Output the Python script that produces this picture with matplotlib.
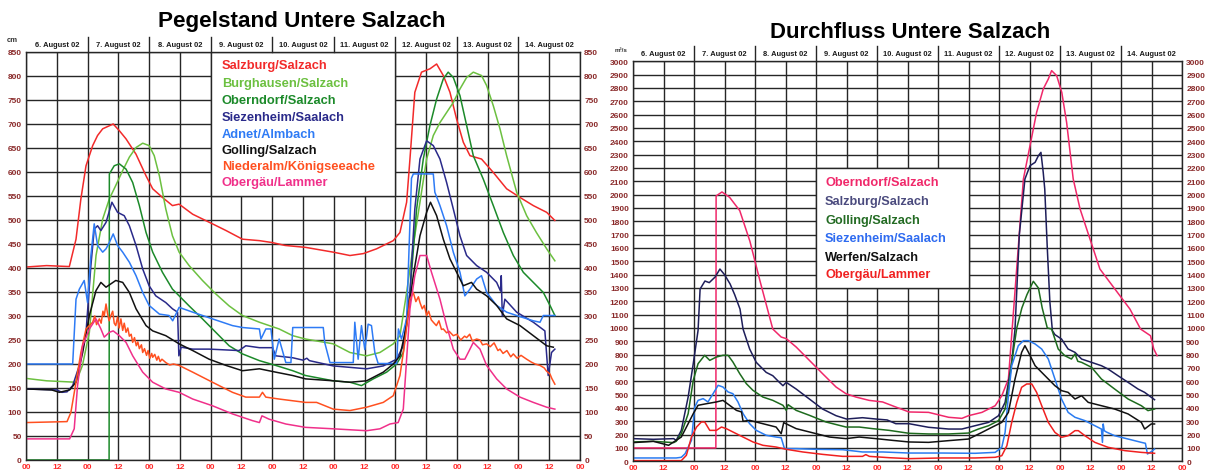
import matplotlib
matplotlib.use("Agg")
import matplotlib.pyplot as plt
from matplotlib.patches import Rectangle
from matplotlib.transforms import blended_transform_factory

plt.rcParams['font.family'] = ['Liberation Sans', 'DejaVu Sans']

# ---------------------------------------------------------------- axis labels
DAYS = ["6. August 02", "7. August 02", "8. August 02", "9. August 02",
        "10. August 02", "11. August 02", "12. August 02", "13. August 02",
        "14. August 02"]
HOUR_TICKS = list(range(0, 217, 12))
HOUR_LABELS = ["00", "12"] * 9 + ["00"]

TITLE_LEFT = "Pegelstand Untere Salzach"
TITLE_RIGHT = "Durchfluss Untere Salzach"

# ---------------------------------------------------------------- Pegelstand (cm)
# time in hours since 6 Aug 2002 00:00
salzburg_pg_t = [0, 8, 16.9, 19.5, 21.4, 23.4, 26, 27.9, 29.9, 34, 36.4, 39, 42.9, 46.8, 49.4,
                 53.2, 57.1, 59.7, 65, 72.7, 78, 84.4, 91, 96, 101, 109, 119.8, 126.3, 131.5,
                 136.7, 143.2, 145.8, 148.4, 149.7, 151.6, 154.2, 157.5, 160.1, 162.7, 165.3,
                 167.9, 170.5, 173.1, 177.6, 182.2, 187.4, 192.6, 197.8, 203, 206.2]
salzburg_pg_v = [402, 405, 403, 460, 544, 613, 655, 676, 690, 700, 686, 669, 637, 592, 565,
                 547, 530, 533, 512, 492, 478, 460, 457, 453, 447, 443, 433, 426, 430,
                 440, 457, 474, 537, 627, 766, 808, 815, 825, 801, 766,
                 710, 662, 634, 627, 599, 565, 547, 530, 516, 499]

burghausen_pg_t = [0, 8, 19.5, 22, 24.7, 27.3, 29.9, 32.5, 35, 37.7, 40.3, 42.9, 45.5, 48, 50,
                   52, 54.5, 57.1, 59.7, 63.6, 68.8, 74, 79.2, 84.4, 91, 98.7, 104, 109, 119.8,
                   126.3, 132.8, 138, 143.2, 145.8, 148.4, 151, 153.6, 156.2, 158.8, 161.4, 164,
                   166.6, 169.2, 171.8, 174.4, 177.6, 179.6, 182.2, 184.8, 187.4, 191.3, 195.2,
                   199, 203, 206.2]
burghausen_pg_v = [170, 165, 162, 197, 266, 426, 502, 544, 572, 603, 631, 651, 660, 655, 634,
                   592, 523, 467, 433, 405, 374, 346, 321, 301, 287, 273, 259, 252, 242,
                   224, 217, 224, 242, 259, 349, 447, 537, 627, 676, 703, 724,
                   745, 773, 797, 808, 801, 780, 738, 690, 634, 558, 509,
                   474, 440, 415]

oberndorf_pg_t = [0, 32.4, 32.5, 34.4, 36.4, 39, 41.6, 44.2, 46.8, 49.4, 53.2, 57.1, 59.7, 63.6,
                  68.8, 74, 79.2, 84.4, 91, 97.4, 104, 109, 119.8, 126.3, 130.8, 135.4, 140.6,
                  144.5, 147.1, 149.7, 152.3, 154.9, 157.5, 160.1, 162.7, 164.6, 166.6, 169.2,
                  171.8, 174.4, 178.3, 182.2, 186.1, 190, 193.9, 197.8, 201.7, 204.3, 206.2]
oberndorf_pg_v = [0, 0, 596, 613, 617, 606, 578, 530, 474, 433, 391, 356, 342, 321,
                  294, 266, 238, 221, 207, 197, 186, 176, 165, 162, 155, 169, 183,
                  200, 224, 349, 523, 627, 697, 752, 794, 808, 797, 759,
                  697, 634, 585, 530, 474, 426, 391, 370, 349, 322, 301]

siezenheim_pg_t = [0, 12, 14, 16, 18.2, 20.8, 23.4, 25.3, 26.6, 27.9, 29.2, 31.2, 33.5, 35.7,
                   38.3, 40.3, 42.9, 45.5, 48, 50.6, 54.5, 57.1, 59.1, 59.6, 60.5, 65, 71.4,
                   83.1, 85.7, 91, 96.1, 97.4, 104, 108, 109.5, 110.5, 119.8, 132.8, 139.3,
                   144.5, 147.1, 149.7, 151.6, 153.6, 156.2, 158.8, 161.4, 164, 166.6, 169.2,
                   171.8, 175.7, 179.6, 183.5, 185.0, 185.3, 185.7, 186.7, 191.3, 197.8, 202.3,
                   203.6, 204.9, 206.2]
siezenheim_pg_v = [148, 146, 141, 142, 155, 197, 266, 405, 481, 488, 478, 495, 537, 516,
                   509, 488, 447, 398, 363, 342, 328, 315, 308, 217, 235, 231, 231,
                   228, 238, 234, 234, 217, 213, 208, 212, 207, 196, 190, 196,
                   210, 238, 349, 523, 627, 665, 655, 627, 578, 523, 467,
                   426, 405, 391, 370, 352, 384, 300, 335, 308, 287, 269,
                   176, 224, 231]

adnet_pg_t = [0, 18.2, 19.5, 20.8, 22.7, 24, 25.3, 26.6, 27.9, 29.9, 31.2, 32.5, 34, 35.7,
              37.7, 40.3, 42.9, 45.5, 48, 52, 55.8, 57.2, 59.7, 65, 72.7, 80.5, 84.4, 91,
              91.6, 93.5, 95.5, 96.8, 98.7, 101.3, 103.3, 104, 109, 115.9, 116.5, 118.5,
              127.6, 128.2, 129.5, 130.8, 132.1, 133.4, 134.7, 136, 137.3, 144.5, 145.2,
              146.4, 148.4, 150.3, 151, 158.8, 159.4, 161.4, 164, 166.6, 169.2, 171.1,
              173.1, 175.7, 177.6, 179.6, 183.5, 187.4, 191.3, 197.8, 200.4, 201.7, 206.2]
adnet_pg_v = [200, 200, 335, 356, 374, 328, 426, 492, 447, 433, 440, 453, 471, 447,
              433, 412, 384, 349, 322, 304, 301, 290, 318, 308, 294, 280, 276, 273,
              252, 273, 273, 210, 252, 203, 203, 276, 276, 276, 244, 203,
              203, 287, 210, 280, 230, 283, 280, 224, 201, 201, 273,
              252, 294, 587, 596, 596, 558, 530, 488, 433, 391, 342,
              356, 377, 384, 349, 322, 308, 301, 290, 287, 301, 301]

golling_pg_t = [0, 10, 13, 17, 19.5, 22.1, 24.7, 27.3, 29.2, 31.2, 33.1, 35, 37.7, 40.3,
                42.9, 46.8, 49.4, 54.5, 59.7, 65, 71.4, 78, 84.4, 91, 97.4, 104, 109, 119.8,
                126.3, 132.8, 139.3, 143.2, 145.8, 148.4, 151, 153.6, 156.2, 157.7, 160.1,
                162.7, 165.3, 167.9, 170.5, 173.7, 175.7, 179.6, 183.5, 187.4, 192.6, 197.8,
                203, 205.6]
golling_pg_v = [148, 146, 141, 146, 162, 224, 301, 353, 370, 360, 367, 374, 370, 349,
                315, 280, 269, 259, 242, 228, 210, 197, 186, 190, 183, 176, 169, 165,
                162, 165, 183, 200, 217, 280, 384, 467, 516, 537, 509,
                460, 419, 391, 363, 370, 356, 342, 322, 294, 280, 259,
                238, 235]

niederalm_pg_t = [0, 16, 17.5, 19.5, 21.4, 23.4, 26, 26.8, 27.5, 28.6, 29.3, 30, 30.5, 31.2,
                  31.8, 32.4, 33.1, 33.8, 34.4, 35, 35.7, 36.3, 37, 37.7, 38.3, 39, 39.7, 40.3,
                  41, 41.6, 42.3, 43, 43.6, 44.2, 45, 45.5, 46.2, 47, 47.6, 48.3, 49, 49.4,
                  50.2, 51, 51.6, 52.3, 53, 54.5, 56, 57.5, 59.7, 65, 72.7, 80.5, 85.7, 91,
                  92.2, 93.5, 98.7, 109, 113.3, 119.8, 126.3, 132.8, 139.3, 143.2, 145.8,
                  147.7, 149.7, 151, 152, 153, 153.6, 154.5, 155.3, 156.2, 157, 158, 158.8,
                  160, 161, 162, 162.7, 164, 165, 166.6, 168, 169.5, 171, 171.8, 173, 174,
                  175.7, 177, 178, 179.6, 181, 182.5, 184, 184.8, 186, 187.5, 189, 190, 191.5,
                  193, 195.2, 197, 198.5, 200.4, 202, 203, 204.3, 205, 206.2]
niederalm_pg_v = [78, 80, 99, 162, 224, 273, 287, 300, 282, 294, 285, 310, 300, 325,
                  305, 290, 301, 310, 285, 280, 298, 275, 294, 270, 285, 266, 275, 258,
                  262, 245, 255, 238, 246, 232, 240, 224, 232, 218, 228, 212, 222, 214,
                  220, 208, 216, 205, 210, 203, 198, 200, 197, 183, 162, 141, 131, 131,
                  141, 131, 127, 120, 120, 106, 103, 110, 120, 134, 176,
                  245, 335, 349, 330, 340, 328, 315, 322, 301, 310, 292, 287,
                  280, 290, 272, 273, 265, 268, 259, 262, 250, 258, 255, 262, 248,
                  252, 250, 240, 242, 236, 244, 228, 231, 222, 228, 215, 221, 212,
                  218, 210, 204, 200, 197, 192, 185, 179, 170, 158]

obergaeu_pg_t = [0, 17, 18.8, 20.1, 22.1, 24.7, 27.3, 29.2, 30.5, 32.5, 34, 36.4, 39, 41.6,
                 45.5, 49.4, 54.5, 59.7, 65, 72.7, 80.5, 88.3, 91, 92, 94.8, 101.3, 109,
                 119.8, 132.8, 138, 141.9, 145.1, 147.1, 148.4, 149.7, 151.6, 153.6, 156.2,
                 158.1, 161.4, 164, 166.6, 169.2, 171.1, 173.1, 174.4, 177, 179.6, 183.5,
                 187.4, 192.6, 197.8, 203, 206.2]
obergaeu_pg_v = [44, 44, 65, 155, 238, 273, 294, 273, 256, 266, 269, 259, 245, 217,
                 183, 162, 148, 141, 127, 113, 96, 82, 78, 92, 85, 75, 68,
                 65, 61, 65, 75, 78, 106, 210, 315, 384, 426, 426,
                 391, 335, 280, 231, 210, 210, 231, 245, 231, 197, 169,
                 148, 131, 120, 110, 106]

# ---------------------------------------------------------------- Durchfluss (m3/s)
oberndorf_df_t = [0, 32.6, 32.7, 35, 38, 42, 46, 50, 55, 58.3, 60.3, 64.2, 69.4, 74.6, 79.9,
                  83.8, 87.7, 92.9, 98.2, 103.4, 108.6, 116.3, 124.2, 129.4, 132, 137.3, 142.5,
                  145.1, 147.7, 150, 153.6, 156.2, 158.8, 161.4, 163.4, 164.7, 166.7, 168.7,
                  170.6, 173.2, 175.9, 179.8, 183.7, 189.6, 195.5, 199.7, 203.6, 204.9, 206.2]
oberndorf_df_v = [100, 100, 1990, 2020, 1980, 1880, 1650, 1350, 992, 932, 920, 857, 757, 657,
                  557, 507, 482, 457, 445, 407, 370, 367, 330, 322, 342, 367, 417,
                  492, 617, 1200, 2117, 2367, 2617, 2792, 2867, 2930, 2892, 2767,
                  2542, 2117, 1892, 1667, 1442, 1292, 1142, 992, 942, 842, 792]

salzburg_df_t = [0, 8, 16, 17, 19, 21.7, 23.7, 25.6, 26.4, 28.3, 30, 32.3, 34.2, 36, 38.2, 40,
                 42.1, 43.3, 45.9, 48.5, 52.4, 55, 57.6, 59, 60.3, 64.2, 69.4, 74.6, 79.9, 84,
                 90.3, 95.6, 100, 103.4, 108.6, 116.3, 124.2, 129.4, 134.6, 139.9, 143.8, 146.4,
                 149, 150.3, 152, 154.2, 156.2, 158.2, 159.5, 160.5, 161.4, 162, 163, 164, 165,
                 166, 168.6, 171.2, 173.9, 176.5, 180.4, 184.3, 186.9, 190.8, 194.8, 198.7,
                 201.3, 205.2]
salzburg_df_v = [170, 165, 170, 157, 232, 482, 732, 982, 1292, 1352, 1340, 1382, 1442, 1400,
                 1330, 1250, 1142, 992, 842, 742, 667, 642, 592, 567, 592, 542, 467, 392, 342,
                 317, 327, 317, 310, 282, 282, 255, 242, 242, 267, 292, 342, 442,
                 742, 992, 1700, 2117, 2217, 2242, 2292, 2317, 2167, 2042, 1600, 1200, 980,
                 950, 917, 842, 817, 767, 742, 717, 692, 642, 592, 542,
                 517, 462]

golling_df_t = [0, 8, 16, 17, 19, 21.7, 23.7, 25.6, 28.2, 30.2, 32.8, 35.4, 37.4, 39.3, 42,
                44.6, 47.2, 51.1, 55, 59, 60.3, 61, 64.2, 69.4, 75.9, 83.8, 89, 94.2, 100.8,
                108.6, 116.3, 124.2, 132, 135.9, 139.9, 143.8, 146.4, 147.7, 149, 151, 153,
                155, 157.5, 159.5, 161, 163, 164.7, 167.3, 169.9, 172.5, 173.9, 175, 176.5,
                180.4, 184.3, 189.5, 194.8, 200, 202.6, 205.2]
golling_df_v = [145, 150, 140, 150, 207, 357, 607, 732, 795, 757, 782, 795, 795, 745, 657,
                582, 532, 482, 457, 420, 382, 425, 382, 345, 295, 257, 257, 245, 232,
                210, 205, 205, 212, 242, 267, 305, 392, 542, 742, 1000, 1150,
                1250, 1350, 1300, 1150, 1000, 992, 842, 792, 767, 805, 750, 742,
                705, 617, 542, 467, 417, 380, 392]

siezenheim_df_t = [0, 8, 17, 19, 20.5, 23, 24.3, 25.6, 27.6, 29.5, 31.5, 33.5, 35.4, 37.4, 39.3,
                   41.3, 43.3, 45.9, 48.5, 52.4, 56.3, 58.3, 59.6, 64.2, 72, 82.5, 90.3, 98.2,
                   108.6, 121.6, 134.6, 142.5, 145.1, 146.4, 147.7, 149, 151.6, 153.6, 155.6,
                   158.2, 160.8, 163.4, 166, 168.6, 171.2, 173.9, 177.8, 181.7, 184.3, 184.7,
                   185.0, 185.4, 186.2, 189.5, 194.8, 200, 201.6, 202.4, 203.9, 205.2]
siezenheim_df_v = [25, 25, 25, 30, 57, 157, 407, 457, 470, 445, 507, 570, 557, 520, 507,
                   445, 357, 282, 232, 195, 182, 177, 95, 95, 90, 87, 70, 70,
                   62, 62, 60, 67, 105, 217, 492, 717, 867, 905, 905,
                   880, 842, 767, 617, 467, 367, 330, 305, 267, 242, 142,
                   280, 230, 220, 192, 167, 142, 135, 55, 72, 92]

werfen_df_t = [0, 8, 14, 16, 19, 21.7, 23.7, 25.6, 28.9, 32.8, 35.4, 38, 40.7, 42.7, 43.3,
               45.9, 51.1, 56.3, 58.3, 59.3, 64.2, 69.4, 77.3, 83.8, 89, 95.6, 102.1, 108.6,
               116.3, 124.2, 132, 137.3, 141.2, 145.1, 147.7, 150.3, 152.9, 154.2, 155.6,
               158.2, 160.8, 163.4, 166, 168.6, 171.2, 173.9, 176.5, 179.1, 184.3, 189.5,
               194.8, 200, 201.3, 203.9, 205.2]
werfen_df_v = [140, 150, 120, 145, 182, 282, 357, 420, 432, 445, 457, 420, 382, 370, 300,
               307, 282, 257, 207, 290, 245, 220, 182, 170, 182, 170, 157, 145,
               142, 155, 167, 217, 255, 292, 367, 617, 817, 867, 817,
               717, 667, 617, 567, 530, 517, 467, 492, 442, 417, 392,
               355, 292, 242, 280, 280]

obergaeu_df_t = [0, 8, 19, 21, 23, 25, 26.9, 28.2, 30.2, 32.8, 34.8, 36.7, 39.3, 43.3, 47.2,
                 51.1, 56.3, 60.3, 66.8, 74.6, 82.5, 90.3, 91.6, 93, 100.8, 108.6, 121.6, 134.6,
                 142.5, 145.1, 147.1, 149, 151, 152.9, 154.9, 156.9, 158.8, 160.8, 163.4, 166,
                 168.6, 171.2, 173.9, 175.2, 177.8, 181.7, 186.9, 193.5, 200, 205.2]
obergaeu_df_v = [5, 5, 5, 45, 182, 257, 295, 295, 232, 232, 257, 245, 220, 182, 145,
                 120, 107, 90, 70, 52, 37, 37, 50, 37, 27, 20, 25, 25,
                 30, 42, 117, 292, 442, 555, 580, 580, 517, 417, 292, 217,
                 180, 192, 230, 230, 192, 142, 105, 80, 67, 60]

# ---------------------------------------------------------------- styling
GRID = "#262626"
TICK_RED = "#ff2a2a"
AXIS_MAROON = "#8a2a2a"

left_series = [
    ("Salzburg/Salzach", salzburg_pg_t, salzburg_pg_v, "#f22a2a"),
    ("Burghausen/Salzach", burghausen_pg_t, burghausen_pg_v, "#6cc040"),
    ("Oberndorf/Salzach", oberndorf_pg_t, oberndorf_pg_v, "#1c8a2a"),
    ("Siezenheim/Saalach", siezenheim_pg_t, siezenheim_pg_v, "#2a2a8a"),
    ("Adnet/Almbach", adnet_pg_t, adnet_pg_v, "#2e7bf5"),
    ("Golling/Salzach", golling_pg_t, golling_pg_v, "#111111"),
    ("Niederalm/Königseeache", niederalm_pg_t, niederalm_pg_v, "#ff5020"),
    ("Obergäu/Lammer", obergaeu_pg_t, obergaeu_pg_v, "#f0308a"),
]
right_series = [
    ("Oberndorf/Salzach", oberndorf_df_t, oberndorf_df_v, "#f0286a", "#f0286a"),
    ("Salzburg/Salzach", salzburg_df_t, salzburg_df_v, "#1e1e5a", "#4b4b7e"),
    ("Golling/Salzach", golling_df_t, golling_df_v, "#1e6b1e", "#236b23"),
    ("Siezenheim/Saalach", siezenheim_df_t, siezenheim_df_v, "#2a7bf0", "#2e6bf0"),
    ("Werfen/Salzach", werfen_df_t, werfen_df_v, "#111111", "#111111"),
    ("Obergäu/Lammer", obergaeu_df_t, obergaeu_df_v, "#f02020", "#f02020"),
]

W, H = 1215, 477
fig = plt.figure(figsize=(W / 100, H / 100), dpi=100)


def px_axes(x0, y0, x1, y1):
    return fig.add_axes([x0 / W, 1 - y1 / H, (x1 - x0) / W, (y1 - y0) / H])


def setup(ax, ymax, ystep, header_frac):
    ax.set_xlim(0, 216)
    ax.set_ylim(0, ymax)
    ax.set_xticks(HOUR_TICKS)
    ax.set_xticklabels(HOUR_LABELS)
    yt = list(range(0, ymax + 1, ystep))
    ax.set_yticks(yt)
    ax.set_yticklabels([str(v) for v in yt])
    ax.grid(True, color=GRID, lw=1.0)
    ax.set_axisbelow(True)
    for s in ax.spines.values():
        s.set_color(GRID)
        s.set_linewidth(1.0)
    ax.tick_params(axis="x", length=0, pad=2, colors=TICK_RED, labelsize=6)
    ax.tick_params(axis="y", length=0, pad=3, labelsize=6, labelcolor=AXIS_MAROON,
                   labelleft=True, labelright=True)
    for lab in ax.get_xticklabels() + ax.get_yticklabels():
        lab.set_fontweight("bold")
    tr = blended_transform_factory(ax.transData, ax.transAxes)
    for i, day in enumerate(DAYS):
        ax.text(24 * i + 12, 1 + header_frac * 0.5, day, transform=tr, ha="center",
                va="center", fontsize=5.4, fontweight="bold", color="#1a1a1a")
        if i > 0:
            ax.plot([24 * i, 24 * i], [1, 1 + header_frac], transform=tr, color=GRID,
                    lw=1.0, clip_on=False)


# ---------------------------------------------------------------- Pegelstand
axL = px_axes(26, 53, 580, 461)
setup(axL, 850, 50, 15 / 408)
axL.add_patch(Rectangle((72, 550), 72, 300, facecolor="white", edgecolor=GRID, lw=1.0,
                        zorder=1))
for name, t, v, c in left_series:
    axL.plot(t, v, color=c, lw=1.1, zorder=2)
for i, (name, t, v, c) in enumerate(left_series):
    fig.text(222 / W, 1 - [66, 83.5, 101.5, 117.7, 135.5, 151, 167.3, 183.3][i] / H, name,
             color=c, fontsize=9.3, fontweight="bold", ha="left", va="center")
fig.text(12 / W, 1 - 40 / H, "cm", fontsize=5.5, fontweight="bold", color="#333333",
         ha="center", va="center")
fig.text(302 / W, 1 - 27 / H, TITLE_LEFT, fontsize=16.2, fontweight="bold", ha="center",
         va="baseline", color="black")

# ---------------------------------------------------------------- Durchfluss
axR = px_axes(633, 62.3, 1182, 462.3)
setup(axR, 3000, 100, 15 / 400)
axR.add_patch(Rectangle((72, 1300), 60, 900, facecolor="white", edgecolor=GRID, lw=1.0,
                        zorder=1))
for name, t, v, c, lc in right_series:
    axR.plot(t, v, color=c, lw=1.1, zorder=2)
for i, (name, t, v, c, lc) in enumerate(right_series):
    fig.text(825 / W, 1 - [183.3, 202.3, 220.7, 239, 257.7, 275][i] / H, name,
             color=lc, fontsize=9.2, fontweight="bold", ha="left", va="center")
fig.text(621 / W, 1 - 50 / H, "m³/s", fontsize=4.5, fontweight="bold", color="#333333",
         ha="center", va="center")
fig.text(910 / W, 1 - 38 / H, TITLE_RIGHT, fontsize=15.9, fontweight="bold", ha="center",
         va="baseline", color="black")

fig.savefig("out.png", dpi=100)
